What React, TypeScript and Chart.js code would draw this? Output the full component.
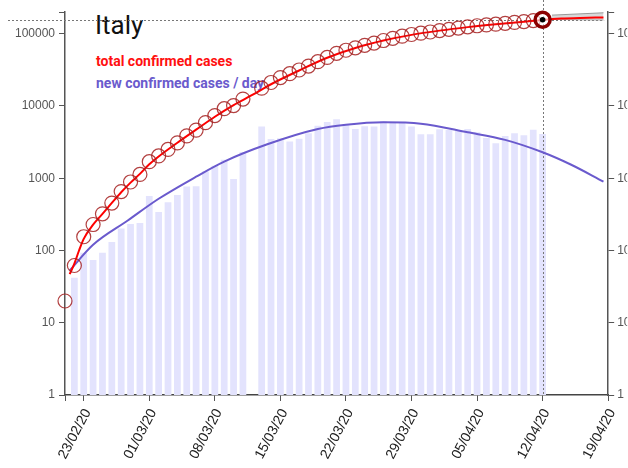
import React, { useEffect, useRef } from 'react';
import { Chart, registerables } from 'chart.js';

Chart.register(...registerables);

// ---------- data ----------
const dates = [
  '21/02/20', '22/02/20', '23/02/20', '24/02/20', '25/02/20', '26/02/20', '27/02/20', '28/02/20', '29/02/20',
  '01/03/20', '02/03/20', '03/03/20', '04/03/20', '05/03/20', '06/03/20', '07/03/20', '08/03/20', '09/03/20',
  '10/03/20', '11/03/20', '12/03/20', '13/03/20', '14/03/20', '15/03/20', '16/03/20', '17/03/20', '18/03/20',
  '19/03/20', '20/03/20', '21/03/20', '22/03/20', '23/03/20', '24/03/20', '25/03/20', '26/03/20', '27/03/20',
  '28/03/20', '29/03/20', '30/03/20', '31/03/20', '01/04/20', '02/04/20', '03/04/20', '04/04/20', '05/04/20',
  '06/04/20', '07/04/20', '08/04/20', '09/04/20', '10/04/20', '11/04/20', '12/04/20',
];

const totalCases: (number | null)[] = [
  20, 62, 155, 229, 322, 453, 655, 888, 1128,
  1694, 2036, 2502, 3089, 3858, 4636, 5883, 7375, 9172,
  10149, 12462, null, 17660, 21157, 24747, 27980, 31506, 35713,
  41035, 47021, 53578, 59138, 63927, 69176, 74386, 80589, 86498,
  92472, 97689, 101739, 105792, 110574, 115242, 119827, 124632, 128948,
  132547, 135586, 139422, 143626, 147577, 152271, 156363,
];

const newCases: (number | null)[] = [
  null, 42, 93, 74, 93, 131, 202, 233, 240,
  566, 342, 466, 587, 769, 778, 1247, 1492, 1797,
  977, 2313, null, 5198, 3497, 3590, 3233, 3526, 4207,
  5322, 5986, 6557, 5560, 4789, 5249, 5210, 6203, 5909,
  5974, 5217, 4050, 4053, 4782, 4668, 4585, 4805, 4316,
  3599, 3039, 3836, 4204, 3951, 4694, 4092,
];

// fitted curves (day offsets from 21/02/20)
const totalFitDays = [0.5, 1, 1.5, 2, 3, 4, 5, 6, 7, 8, 9, 10, 12, 14, 16, 18, 20, 22, 25, 28, 31, 34, 37, 40, 43, 46, 49, 51, 53, 55, 57.5];
const totalFitValues = [47, 66, 100, 145, 228, 322, 455, 640, 870, 1150, 1560, 2000, 3100, 4700, 7100, 10300, 14200, 20000, 31000, 46500, 63500, 80500, 96500, 110500, 123500, 135500, 147000, 155500, 162000, 165500, 168000];

const newFitDays = [0.5, 3, 6.7, 10, 14, 17, 21.6, 27, 30, 34, 38, 43, 47, 51, 54, 57.5];
const newFitValues = [53, 120, 260, 520, 1050, 1700, 2950, 4800, 5500, 5950, 5700, 4330, 3400, 2290, 1550, 900];

// projection band
const bandDays = [52, 57.5];
const bandUpper = [181000, 195000];
const bandLower = [158000, 155000];

const yTickValues = [1, 10, 100, 1000, 10000, 100000];
const yTickLabels = ['1', '10', '100', '1000', '10000', '100000'];
const yMax = 200000;

const xTickLabels = ['23/02/20', '01/03/20', '08/03/20', '15/03/20', '22/03/20', '29/03/20', '05/04/20', '12/04/20', '19/04/20'];

const title = 'Italy';
const totalLabel = 'total confirmed cases';
const newLabel = 'new confirmed cases / day';

// ---------- helpers ----------
const START = Date.UTC(2020, 1, 21);
const dayOf = (s: string) => {
  const [d, m, y] = s.split('/').map(Number);
  return Math.round((Date.UTC(2000 + y, m - 1, d) - START) / 86400000);
};
const xs = dates.map(dayOf);
const xTickDays = xTickLabels.map(dayOf);
const xMax = xTickDays[xTickDays.length - 1];
const lastIdx = totalCases.length - 1;

const RED_CIRCLE = 'rgba(165,30,30,0.85)';
const AXIS = '#555';

export default function App() {
  const ref = useRef<HTMLCanvasElement | null>(null);

  useEffect(() => {
    if (!ref.current) return;

    const crosshair = {
      id: 'crosshair',
      afterDatasetDraw(chart: any, args: any) {
        if (args.index !== 0) return;
        const { ctx, chartArea, scales } = chart;
        const px = Math.round(scales.x.getPixelForValue(xs[lastIdx])) + 0.5;
        const py = Math.round(scales.y.getPixelForValue(totalCases[lastIdx] as number)) + 0.5;
        ctx.save();
        ctx.setLineDash([2, 2]);
        ctx.strokeStyle = '#777';
        ctx.lineWidth = 1;
        ctx.beginPath();
        ctx.moveTo(8, py);
        ctx.lineTo(chartArea.right - 4, py);
        ctx.moveTo(px, 0);
        ctx.lineTo(px, chartArea.bottom);
        ctx.stroke();
        ctx.restore();
      },
    };

    const yAxisCommon = (position: 'left' | 'right') => ({
      type: 'logarithmic' as const,
      position,
      min: 1,
      max: yMax,
      z: 1,
      afterBuildTicks: (s: any) => {
        s.ticks = [...yTickValues, yMax].map((v) => ({ value: v }));
      },
      afterFit: (s: any) => {
        s.width = position === 'left' ? 65 : 19;
      },
      grid: { drawOnChartArea: false, drawTicks: true, tickLength: 6, color: AXIS, lineWidth: 1, offset: false },
      border: { display: true, color: AXIS, width: 1.5 },
      ticks: {
        padding: position === 'left' ? 4 : 3,
        color: '#555',
        font: { family: 'Liberation Sans, Arial, sans-serif', size: 12 },
        callback: (v: any) => {
          const i = yTickValues.indexOf(Number(v));
          return i >= 0 ? yTickLabels[i] : '';
        },
      },
    });

    const chart = new Chart(ref.current, {
      type: 'bar',
      data: {
        datasets: [
          {
            type: 'bar',
            data: xs.map((x, i) => ({ x, y: newCases[i] })),
            backgroundColor: '#e3e3fd',
            borderWidth: 0,
            barPercentage: 0.72,
            categoryPercentage: 1,
            order: 10,
          } as any,
          {
            type: 'line',
            data: bandDays.map((x, i) => ({ x, y: bandLower[i] })),
            borderColor: '#999',
            borderWidth: 1,
            pointRadius: 0,
            fill: false,
            order: 9,
          },
          {
            type: 'line',
            data: bandDays.map((x, i) => ({ x, y: bandUpper[i] })),
            borderColor: '#999',
            borderWidth: 1,
            backgroundColor: 'rgba(200,200,200,0.7)',
            pointRadius: 0,
            fill: '-1',
            order: 8,
          },
          {
            type: 'line',
            data: newFitDays.map((x, i) => ({ x, y: newFitValues[i] })),
            borderColor: '#6a5acd',
            borderWidth: 2,
            pointRadius: 0,
            tension: 0.4,
            cubicInterpolationMode: 'monotone',
            fill: false,
            order: 7,
          },
          {
            type: 'line',
            data: totalFitDays.map((x, i) => ({ x, y: totalFitValues[i] })),
            borderColor: '#ff0000',
            borderWidth: 2,
            pointRadius: 0,
            tension: 0.4,
            cubicInterpolationMode: 'monotone',
            fill: false,
            order: 6,
          },
          {
            type: 'line',
            data: xs.map((x, i) => ({ x, y: totalCases[i] })),
            showLine: false,
            pointRadius: 7,
            pointBorderWidth: 1.2,
            pointBorderColor: RED_CIRCLE,
            pointBackgroundColor: 'rgba(0,0,0,0)',
            clip: false,
            order: 5,
          } as any,
          {
            type: 'line',
            data: [{ x: xs[lastIdx], y: totalCases[lastIdx] }],
            showLine: false,
            pointRadius: 7.5,
            pointBorderWidth: 3.5,
            pointBorderColor: '#8b0000',
            pointBackgroundColor: 'rgba(255,255,255,0.6)',
            clip: false,
            order: 4,
          } as any,
          {
            type: 'line',
            data: [{ x: xs[lastIdx], y: totalCases[lastIdx] }],
            showLine: false,
            pointRadius: 2.8,
            pointBorderWidth: 0,
            pointBackgroundColor: '#000',
            clip: false,
            order: 3,
          } as any,
        ],
      },
      options: {
        responsive: false,
        animation: false,
        devicePixelRatio: 1,
        layout: { padding: { top: 12, left: 0, right: 0, bottom: 0 } },
        plugins: { legend: { display: false }, tooltip: { enabled: false } },
        scales: {
          x: {
            type: 'linear',
            min: 0,
            max: xMax,
            offset: false,
            z: 1,
            afterBuildTicks: (s: any) => {
              s.ticks = [0, ...xTickDays].map((v) => ({ value: v }));
            },
            afterFit: (s: any) => {
              s.height = 73;
            },
            grid: { drawOnChartArea: false, drawTicks: true, tickLength: 6, color: AXIS, lineWidth: 1, offset: false },
            border: { display: true, color: '#444', width: 1.5 },
            ticks: {
              autoSkip: false,
              minRotation: 62,
              maxRotation: 62,
              padding: 5,
              labelOffset: 4,
              color: '#222',
              font: { family: 'Liberation Sans, Arial, sans-serif', size: 14 },
              callback: (v: any) => {
                const i = xTickDays.indexOf(Number(v));
                return i >= 0 ? xTickLabels[i] : '';
              },
            },
          },
          y: yAxisCommon('left'),
          y2: yAxisCommon('right'),
        } as any,
      },
      plugins: [crosshair],
    } as any);

    return () => chart.destroy();
  }, []);

  const textBase: React.CSSProperties = {
    position: 'absolute',
    fontFamily: 'Roboto, "Noto Sans", sans-serif',
    whiteSpace: 'nowrap',
    margin: 0,
  };

  return (
    <div style={{ position: 'fixed', left: 0, top: 0, width: 628, height: 468, overflow: 'hidden', background: '#fff' }}>
      <div style={{ ...textBase, left: 95, top: 10, fontSize: 26, lineHeight: '30px', color: '#111' }}>{title}</div>
      <div style={{ ...textBase, left: 96, top: 53, fontSize: 14, lineHeight: '16px', fontWeight: 700, color: '#ff1010' }}>{totalLabel}</div>
      <div style={{ ...textBase, left: 96, top: 74.5, fontSize: 14, lineHeight: '16px', fontWeight: 700, color: '#6a5acd' }}>{newLabel}</div>
      <canvas ref={ref} width={628} height={468} style={{ position: 'absolute', left: 0, top: 0, width: 628, height: 468 }} />
    </div>
  );
}
